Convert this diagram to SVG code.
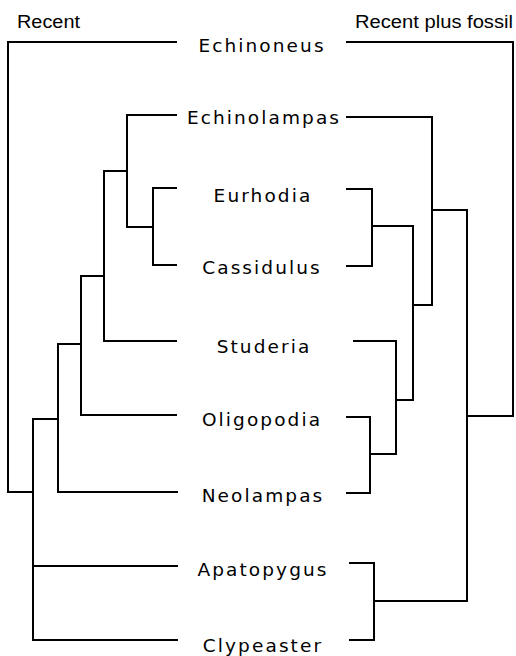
<svg xmlns="http://www.w3.org/2000/svg" width="516" height="656" viewBox="0 0 516 656">
<style>
.bg{fill:#ffffff}
.edge{fill:none;stroke:#000;stroke-width:2;stroke-linejoin:miter;stroke-linecap:square}
.taxon{font-family:"DejaVu Sans",Verdana,sans-serif;font-size:18.5px;letter-spacing:2.1px;fill:#000;text-anchor:middle}
.head{font-family:"Liberation Sans",Arial,sans-serif;font-size:18px;fill:#000}
</style>
<rect class="bg" x="0" y="0" width="516" height="656"/>
<g id="headers">
<text class="head" x="17" y="28" textLength="63" lengthAdjust="spacingAndGlyphs">Recent</text>
<text class="head" x="355" y="28" textLength="158" lengthAdjust="spacingAndGlyphs">Recent plus fossil</text>
</g>
<g id="connectors">
<g id="left-tree">
<path class="edge" d="M176,42 H8 V492 H33"/>
<path class="edge" d="M176,115 H127 V227 H153"/>
<path class="edge" d="M176,188 H153 V265 H176"/>
<path class="edge" d="M127,171 H104 V341 H176"/>
<path class="edge" d="M104,276 H81 V415 H176"/>
<path class="edge" d="M81,344 H58 V492 H177"/>
<path class="edge" d="M58,419 H33 V640 H177"/>
<path class="edge" d="M33,566 H177"/>
</g>
<g id="right-tree">
<path class="edge" d="M347,42 H513 V416 H467"/>
<path class="edge" d="M347,117 H432 V305 H413"/>
<path class="edge" d="M347,189 H372 V266 H347"/>
<path class="edge" d="M372,226 H413 V400 H396"/>
<path class="edge" d="M354,341 H396 V454 H370"/>
<path class="edge" d="M347,417 H370 V493 H347"/>
<path class="edge" d="M432,210 H467 V601 H374"/>
<path class="edge" d="M350,563 H374 V640 H350"/>
</g>
</g>
<g id="Echinoneus"><text class="taxon" x="262" y="52">Echinoneus</text></g>
<g id="Echinolampas"><text class="taxon" x="264" y="124">Echinolampas</text></g>
<g id="Eurhodia"><text class="taxon" x="263" y="202">Eurhodia</text></g>
<g id="Cassidulus"><text class="taxon" x="262" y="274">Cassidulus</text></g>
<g id="Studeria"><text class="taxon" x="264" y="353">Studeria</text></g>
<g id="Oligopodia"><text class="taxon" x="262" y="426">Oligopodia</text></g>
<g id="Neolampas"><text class="taxon" x="263" y="502">Neolampas</text></g>
<g id="Apatopygus"><text class="taxon" x="263" y="576">Apatopygus</text></g>
<g id="Clypeaster"><text class="taxon" x="263" y="652">Clypeaster</text></g>
</svg>
